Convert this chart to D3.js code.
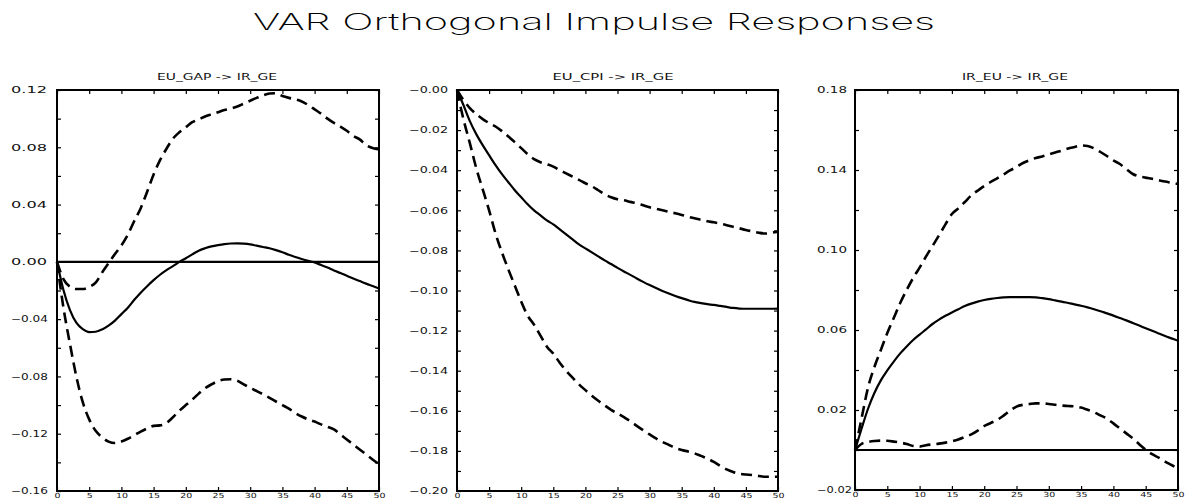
<!DOCTYPE html>
<html>
<head>
<meta charset="utf-8">
<script src="https://cdn.jsdelivr.net/npm/d3@7"></script>
<style>
  html, body { margin: 0; padding: 0; background: #fff; }
  svg { display: block; }
</style>
</head>
<body>
<svg id="chart" width="1187" height="501"></svg>
<script>
// Horizon (periods after the shock)
const horizon = [0,1,2,3,4,5,6,7,8,9,10,11,12,13,14,15,16,17,18,19,20,21,22,23,24,25,
  26,27,28,29,30,31,32,33,34,35,36,37,38,39,40,41,42,43,44,45,46,47,48,49,50];

// EU_GAP -> IR_GE : point estimate and bands
const gapMid = [0,-0.0196,-0.0335,-0.0425,-0.047,-0.049,-0.0488,-0.0472,-0.0445,-0.041,-0.0365,
  -0.032,-0.0265,-0.0215,-0.017,-0.0128,-0.009,-0.0058,-0.003,0,0.0025,0.0052,0.0078,0.0095,0.0108,
  0.0117,0.0124,0.0128,0.0129,0.0127,0.0122,0.0113,0.0104,0.0095,0.0082,0.0067,0.005,0.0034,0.002,
  0.0007,-0.0005,-0.0022,-0.004,-0.006,-0.0078,-0.0097,-0.0116,-0.0134,-0.0152,-0.0169,-0.0186];
const gapHi = [0,-0.012,-0.0173,-0.019,-0.019,-0.0175,-0.0145,-0.0075,-0.001,0.0055,0.0115,
  0.019,0.0285,0.0375,0.049,0.061,0.071,0.079,0.086,0.0905,0.094,0.0975,0.0995,0.1015,0.103,
  0.1045,0.106,0.107,0.1085,0.1105,0.1125,0.1145,0.1163,0.1175,0.1177,0.1158,0.1145,0.1135,0.112,
  0.1095,0.1065,0.1035,0.1,0.097,0.0945,0.0915,0.088,0.0855,0.0815,0.0795,0.0785];
const gapLo = [0,-0.032,-0.057,-0.08,-0.098,-0.11,-0.118,-0.1225,-0.1255,-0.1265,-0.1255,
  -0.1235,-0.121,-0.1185,-0.1163,-0.1145,-0.1142,-0.1125,-0.1085,-0.104,-0.1,-0.0962,-0.092,-0.0882,
  -0.0855,-0.0833,-0.0822,-0.082,-0.083,-0.0855,-0.088,-0.0902,-0.0925,-0.095,-0.0975,-0.1,-0.1025,
  -0.1055,-0.108,-0.11,-0.1115,-0.1135,-0.1152,-0.117,-0.1205,-0.124,-0.1275,-0.131,-0.1345,-0.138,-0.1412];

// EU_CPI -> IR_GE
const cpiMid = [0,-0.0075,-0.0155,-0.022,-0.0275,-0.0325,-0.0375,-0.042,-0.046,-0.05,-0.0535,
  -0.057,-0.06,-0.0625,-0.065,-0.067,-0.0695,-0.072,-0.0745,-0.077,-0.079,-0.081,-0.083,-0.085,
  -0.0868,-0.0887,-0.0905,-0.0922,-0.094,-0.0957,-0.0973,-0.0988,-0.1002,-0.1015,-0.1027,-0.1038,
  -0.1048,-0.1057,-0.1063,-0.1068,-0.1072,-0.1077,-0.1082,-0.1087,-0.109,-0.1091,-0.1091,-0.1091,
  -0.1091,-0.1091,-0.109];
const cpiHi = [0,-0.005,-0.009,-0.012,-0.0145,-0.0165,-0.0182,-0.0205,-0.0232,-0.026,-0.029,
  -0.032,-0.0345,-0.036,-0.037,-0.0382,-0.04,-0.0416,-0.0432,-0.0448,-0.0465,-0.048,-0.05,-0.052,
  -0.0535,-0.0545,-0.055,-0.0558,-0.0565,-0.0575,-0.0585,-0.0592,-0.06,-0.0608,-0.0615,-0.0623,
  -0.0632,-0.064,-0.0648,-0.0655,-0.066,-0.0666,-0.0674,-0.0682,-0.069,-0.0698,-0.0705,-0.0712,
  -0.0716,-0.0712,-0.0707];
const cpiLo = [0,-0.0145,-0.0265,-0.039,-0.0495,-0.06,-0.0715,-0.081,-0.0895,-0.0975,-0.1055,
  -0.1125,-0.117,-0.1225,-0.128,-0.1315,-0.136,-0.14,-0.1435,-0.1468,-0.1497,-0.1525,-0.155,-0.1573,
  -0.1595,-0.1613,-0.1632,-0.1652,-0.1675,-0.1697,-0.1718,-0.1738,-0.1755,-0.177,-0.1785,-0.1796,
  -0.1803,-0.1812,-0.1825,-0.1838,-0.1855,-0.1875,-0.1892,-0.1905,-0.1914,-0.1918,-0.192,-0.1925,
  -0.1929,-0.1929,-0.1929];

// IR_EU -> IR_GE
const irMid = [0,0.0105,0.0205,0.0285,0.0348,0.0398,0.0442,0.0483,0.0518,0.055,0.0577,0.0603,
  0.063,0.0652,0.0671,0.0688,0.0704,0.072,0.0732,0.0742,0.075,0.0756,0.076,0.0763,0.0764,0.0764,
  0.0764,0.0764,0.0763,0.0759,0.0754,0.0748,0.0742,0.0735,0.0728,0.0721,0.0713,0.0704,0.0694,0.0683,
  0.0672,0.066,0.0648,0.0635,0.0622,0.0609,0.0596,0.0583,0.057,0.0558,0.0546];
const irHi = [0,0.0155,0.031,0.0415,0.05,0.0585,0.066,0.0735,0.08,0.086,0.0912,0.0968,0.102,
  0.1073,0.1128,0.118,0.1208,0.124,0.1273,0.1297,0.132,0.134,0.1358,0.1378,0.1398,0.1415,0.1435,
  0.1449,0.146,0.1468,0.1478,0.1488,0.1497,0.1507,0.1515,0.1523,0.152,0.1508,0.149,0.147,0.1448,
  0.143,0.1405,0.138,0.1368,0.1362,0.1356,0.1349,0.1342,0.1336,0.133];
const irLo = [0,0.003,0.004,0.0045,0.0047,0.0046,0.0042,0.0037,0.003,0.002,0.0017,0.0024,0.0028,
  0.0032,0.0037,0.0044,0.0053,0.0065,0.0078,0.0097,0.012,0.0135,0.015,0.0172,0.0197,0.0217,0.0226,
  0.023,0.0233,0.0233,0.023,0.0226,0.0222,0.022,0.0218,0.0212,0.0201,0.0189,0.0173,0.0157,0.0133,
  0.0108,0.0083,0.0058,0.0029,0.0001,-0.0021,-0.0038,-0.0058,-0.0075,-0.0092];

// Axis ticks and labels
const xTicks = [0,5,10,15,20,25,30,35,40,45,50];
const gapTicks  = [0.12,0.08,0.04,0.00,-0.04,-0.08,-0.12,-0.16];
const gapLabels = ["0.12","0.08","0.04","0.00","\u22120.04","\u22120.08","\u22120.12","\u22120.16"];
const gapMinor  = [0.10,0.06,0.02,-0.02,-0.06,-0.10,-0.14];
const cpiTicks  = [0,-0.02,-0.04,-0.06,-0.08,-0.10,-0.12,-0.14,-0.16,-0.18,-0.20];
const cpiLabels = ["\u22120.00","\u22120.02","\u22120.04","\u22120.06","\u22120.08","\u22120.10",
  "\u22120.12","\u22120.14","\u22120.16","\u22120.18","\u22120.20"];
const cpiMinor  = [-0.01,-0.03,-0.05,-0.07,-0.09,-0.11,-0.13,-0.15,-0.17,-0.19];
const irTicks   = [0.18,0.14,0.10,0.06,0.02,-0.02];
const irLabels  = ["0.18","0.14","0.10","0.06","0.02","\u22120.02"];
const irMinor   = [0.16,0.12,0.08,0.04,0.00];

const titleText = "VAR Orthogonal Impulse Responses";

const panels = [
  { name: "EU_GAP -> IR_GE", mid: gapMid, lo: gapLo, hi: gapHi,
    ticks: gapTicks, labels: gapLabels, minor: gapMinor,
    box: { l: 57, r: 379, t: 90, b: 491 }, yDom: [-0.16, 0.12],
    labelX: 11, labelW: [36, 37], titleCx: 217, titleW: 120 },
  { name: "EU_CPI -> IR_GE", mid: cpiMid, lo: cpiLo, hi: cpiHi,
    ticks: cpiTicks, labels: cpiLabels, minor: cpiMinor,
    box: { l: 457, r: 778, t: 90, b: 491 }, yDom: [-0.20, 0.00],
    labelX: 409, labelW: [36, 39], titleCx: 613, titleW: 121 },
  { name: "IR_EU -> IR_GE", mid: irMid, lo: irLo, hi: irHi,
    ticks: irTicks, labels: irLabels, minor: irMinor,
    box: { l: 855, r: 1178, t: 90, b: 490 }, yDom: [-0.02, 0.18],
    labelX: 817, labelW: [30, 35], titleCx: 1015, titleW: 106 }
];

const svg = d3.select("#chart");
const FONT = "'DejaVu Sans', 'Liberation Sans', sans-serif";

// Main title
svg.append("text")
  .attr("x", 594).attr("y", 30)
  .attr("text-anchor", "middle")
  .attr("font-family", "Inter, Roboto, 'DejaVu Sans', sans-serif")
  .attr("font-weight", 200)
  .attr("font-size", 23)
  .attr("textLength", 682)
  .attr("lengthAdjust", "spacingAndGlyphs")
  .attr("fill", "#000")
  .text(titleText);

panels.forEach(p => {
  const { l, r, t, b } = p.box;
  const x = d3.scaleLinear().domain([0, 50]).range([l, r]);
  const y = d3.scaleLinear().domain(p.yDom).range([b, t]);
  const g = svg.append("g");

  // Panel title
  g.append("text")
    .attr("x", p.titleCx).attr("y", 80)
    .attr("text-anchor", "middle")
    .attr("font-family", FONT)
    .attr("font-size", 9)
    .attr("textLength", p.titleW)
    .attr("lengthAdjust", "spacingAndGlyphs")
    .attr("fill", "#111")
    .text(p.name);

  // Left axis: labelled ticks + minor ticks, pointing into the plot
  const left = g.append("g").attr("transform", `translate(${l},0)`)
    .call(d3.axisLeft(y).tickValues(p.ticks)
      .tickFormat((d, i) => p.labels[i]).tickSize(-4).tickPadding(0));
  left.select(".domain").remove();
  left.selectAll(".tick line").attr("stroke", "#000").attr("stroke-width", 1.2);
  left.selectAll(".tick text")
    .attr("x", p.labelX - l)
    .attr("text-anchor", "start")
    .attr("font-family", FONT)
    .attr("font-size", 8.5)
    .attr("fill", "#111")
    .attr("textLength", (d, i) => p.labels[i].length > 4 ? p.labelW[1] : p.labelW[0])
    .attr("lengthAdjust", "spacingAndGlyphs");

  const leftMinor = g.append("g").attr("transform", `translate(${l},0)`)
    .call(d3.axisLeft(y).tickValues(p.minor).tickFormat("").tickSize(-4));
  leftMinor.select(".domain").remove();
  leftMinor.selectAll(".tick line").attr("stroke", "#000").attr("stroke-width", 1.2);

  // Right axis ticks
  const right = g.append("g").attr("transform", `translate(${r},0)`)
    .call(d3.axisRight(y).tickValues(p.ticks.concat(p.minor)).tickFormat("").tickSize(-4));
  right.select(".domain").remove();
  right.selectAll(".tick line").attr("stroke", "#000").attr("stroke-width", 1.2);

  // Top axis ticks
  const top = g.append("g").attr("transform", `translate(0,${t})`)
    .call(d3.axisTop(x).tickValues(xTicks).tickFormat("").tickSize(-4));
  top.select(".domain").remove();
  top.selectAll(".tick line").attr("stroke", "#000").attr("stroke-width", 1.2);

  // Bottom axis with horizon labels
  const bottom = g.append("g").attr("transform", `translate(0,${b})`)
    .call(d3.axisBottom(x).tickValues(xTicks).tickSize(-4).tickPadding(2));
  bottom.select(".domain").remove();
  bottom.selectAll(".tick line").attr("stroke", "#000").attr("stroke-width", 1.2);
  bottom.selectAll(".tick text")
    .attr("font-family", FONT)
    .attr("font-size", 7)
    .attr("fill", "#111")
    .attr("textLength", d => String(d).length > 1 ? 12 : 6)
    .attr("lengthAdjust", "spacingAndGlyphs");

  // Zero reference line
  g.append("line")
    .attr("x1", l).attr("x2", r)
    .attr("y1", y(0)).attr("y2", y(0))
    .attr("stroke", "#000").attr("stroke-width", 2.2);

  // Frame
  g.append("rect")
    .attr("x", l).attr("y", t)
    .attr("width", r - l).attr("height", b - t)
    .attr("fill", "none").attr("stroke", "#000").attr("stroke-width", 2);

  const line = d3.line()
    .x((d, i) => x(horizon[i]))
    .y(d => y(d))
    .curve(d3.curveMonotoneX);

  // Confidence bands (dashed)
  [p.hi, p.lo].forEach(series => {
    g.append("path")
      .datum(series)
      .attr("d", line)
      .attr("fill", "none")
      .attr("stroke", "#000")
      .attr("stroke-width", 2.6)
      .attr("stroke-dasharray", "11,6");
  });

  // Point estimate (solid)
  g.append("path")
    .datum(p.mid)
    .attr("d", line)
    .attr("fill", "none")
    .attr("stroke", "#000")
    .attr("stroke-width", 2.2);
});
</script>
</body>
</html>
